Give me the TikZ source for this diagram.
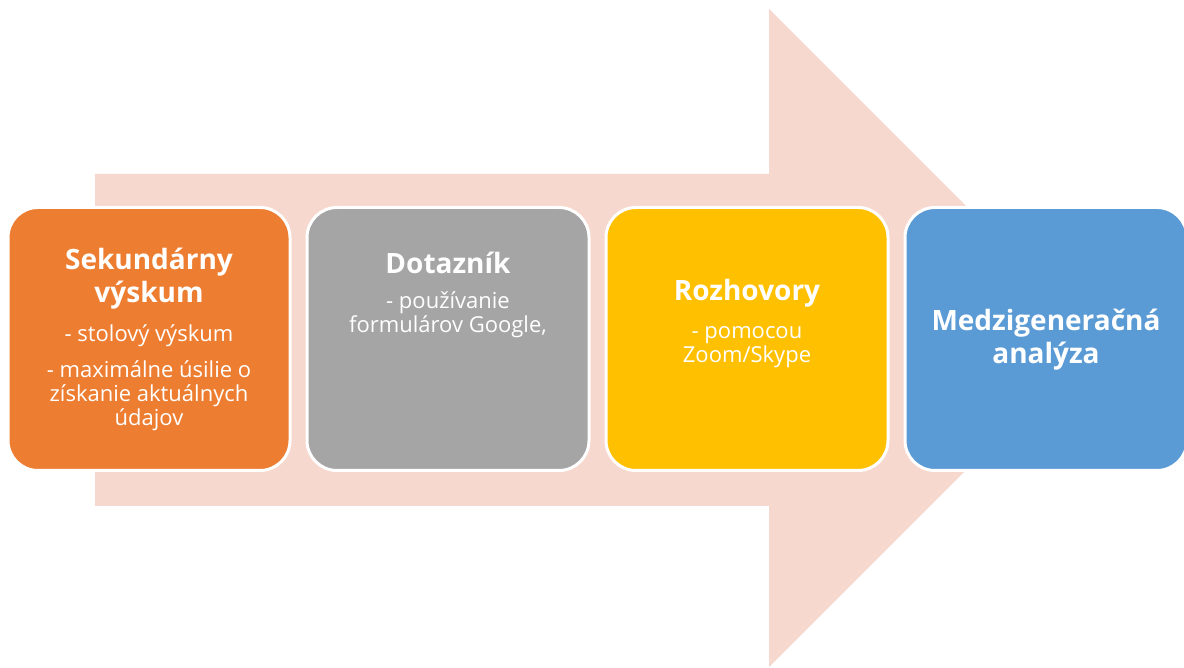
\documentclass[tikz,border=0pt]{standalone}
\usepackage{fontspec}
\setmainfont{Open Sans}
\definecolor{arrowbg}{HTML}{F7D8CE}
\definecolor{boxorange}{HTML}{ED7D31}
\definecolor{boxgray}{HTML}{A5A5A5}
\definecolor{boxyellow}{HTML}{FFC000}
\definecolor{boxblue}{HTML}{5B9BD5}
\tikzset{
    stage/.style={draw=white, line width=3pt, rounded corners=30pt,
        minimum width=282pt, minimum height=263pt, inner sep=0pt},
    head/.style={text=white, align=center, inner sep=0pt,
        font=\bfseries\fontsize{28}{33}\selectfont},
    body/.style={text=white, align=center, inner sep=0pt,
        font=\fontsize{22}{24}\selectfont}
}
\begin{document}
\begin{tikzpicture}[x=1pt, y=1pt]
            \useasboundingbox (0,0) rectangle (1184,668);
        
            % background arrow
            \fill[arrowbg] (95,494) -- (769,494) -- (769,659) -- (1098,330)
                -- (769,1) -- (769,162) -- (95,162) -- cycle;
        
            % stages
            \node[stage, fill=boxorange] (sek) at (149,329) {};
            \node[stage, fill=boxgray] (dot) at (448,329) {};
            \node[stage, fill=boxyellow] (roz) at (747,329) {};
            \node[stage, fill=boxblue] (med) at (1046,329) {};
        
            \node[head] (sekT) at (149,389) {Sekundárny\\výskum};
            \node[body] (sekA) at (149,332) {- stolový výskum};
            \node[body] (sekB) at (149,272) {- maximálne úsilie o\\získanie aktuálnych\\údajov};
        
            \node[head] (dotT) at (448,405) {Dotazník};
            \node[body] (dotA) at (448,353) {- používanie\\formulárov Google,};
        
            \node[head] (rozT) at (747,375) {Rozhovory};
            \node[body] (rozA) at (747,321) {- pomocou\\Zoom/Skype};
        
            \node[head] (medT) at (1046,328) {Medzigeneračná\\analýza};
        \end{tikzpicture}
\end{document}
